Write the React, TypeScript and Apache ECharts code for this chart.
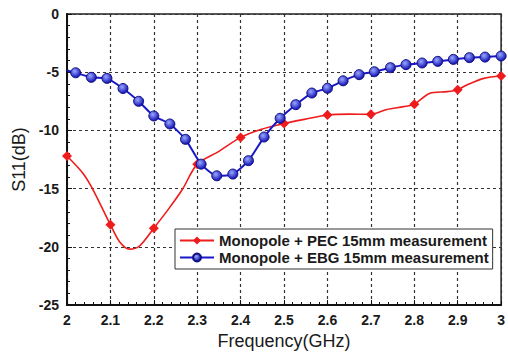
import React, { useEffect, useRef } from 'react';
import * as echarts from 'echarts';

const legendNames = ['Monopole + PEC 15mm measurement', 'Monopole + EBG 15mm measurement'];
const xAxisName = 'Frequency(GHz)';
const yAxisName = 'S11(dB)';

// Monopole + PEC (red) — markers at every 0.1 GHz, extra points trace the smooth curve
const redFreq = [2.0, 2.037, 2.06, 2.1, 2.121, 2.144, 2.167, 2.2, 2.235, 2.266, 2.3, 2.35, 2.4, 2.448, 2.5, 2.547, 2.6, 2.65, 2.7, 2.737, 2.775, 2.8, 2.836, 2.876, 2.9, 2.921, 2.96, 3.0];
const redS11 = [-12.2, -13.7, -15.1, -18.1, -19.56, -20.2, -19.93, -18.4, -16.7, -15.06, -12.9, -11.8, -10.6, -9.9, -9.4, -9.05, -8.68, -8.6, -8.62, -8.2, -7.96, -7.76, -6.8, -6.67, -6.5, -6.1, -5.53, -5.33];
const redMarkerFreq = [2.0, 2.1, 2.2, 2.3, 2.4, 2.5, 2.6, 2.7, 2.8, 2.9, 3.0];

// Monopole + EBG (blue)
const blueFreq = [2.0, 2.02, 2.056, 2.092, 2.129, 2.165, 2.2, 2.237, 2.273, 2.309, 2.345, 2.382, 2.418, 2.454, 2.491, 2.527, 2.564, 2.6, 2.636, 2.673, 2.708, 2.745, 2.781, 2.818, 2.854, 2.89, 2.927, 2.963, 3.0];
const blueS11 = [-4.85, -5.05, -5.44, -5.53, -6.4, -7.5, -8.76, -9.45, -10.77, -12.9, -13.9, -13.75, -12.6, -10.57, -8.96, -7.79, -6.79, -6.38, -5.74, -5.21, -4.96, -4.61, -4.35, -4.21, -4.07, -3.9, -3.75, -3.7, -3.61];
const blueMarkerFrom = 1;

const FONT = '"Liberation Sans", Arial, sans-serif';

export default function App() {
  const ref = useRef<HTMLDivElement>(null);
  useEffect(() => {
    if (!ref.current) return;
    const chart = echarts.init(ref.current, null, { renderer: 'svg' });
    const redData = redFreq.map((f, i) => {
      const isMarker = redMarkerFreq.some((m) => Math.abs(m - f) < 1e-6);
      return isMarker ? { value: [f, redS11[i]] } : { value: [f, redS11[i]], symbol: 'none' };
    });
    const blueData = blueFreq.map((f, i) =>
      i >= blueMarkerFrom ? { value: [f, blueS11[i]] } : { value: [f, blueS11[i]], symbol: 'none' }
    );
    const axisLabel = { fontSize: 14, fontWeight: 'bold' as const, color: '#1a1a1a', fontFamily: FONT, margin: 8 };
    const splitLine = { show: true, lineStyle: { type: [3, 3] as any, color: '#333', width: 1.2 } };
    const axisLine = { show: true, onZero: false, lineStyle: { color: '#111', width: 2 } };
    chart.setOption({
      animation: false,
      backgroundColor: '#fff',
      grid: { left: 67, right: 3, top: 14, bottom: 51, show: true, borderColor: '#222', borderWidth: 1.5 },
      xAxis: {
        type: 'value', min: 2, max: 3, interval: 0.1,
        axisLine, axisTick: { show: true, inside: true, length: 5, lineStyle: { color: '#111' } },
        minorTick: { show: true, splitNumber: 5, length: 3, lineStyle: { color: '#111' } },
        splitLine, axisLabel,
        name: xAxisName, nameLocation: 'middle', nameGap: 27,
        nameTextStyle: { fontSize: 18, color: '#1a1a1a', fontFamily: FONT },
      },
      yAxis: {
        type: 'value', min: -25, max: 0, interval: 5,
        axisLine, axisTick: { show: true, inside: true, length: 5, lineStyle: { color: '#111' } },
        minorTick: { show: true, splitNumber: 5, length: 3, lineStyle: { color: '#111' } },
        splitLine, axisLabel,
        name: yAxisName, nameLocation: 'middle', nameGap: 38,
        nameTextStyle: { fontSize: 18, color: '#1a1a1a', fontFamily: FONT },
      },
      legend: {
        data: legendNames,
        left: 175, top: 229, orient: 'vertical',
        itemWidth: 34, itemHeight: 10, itemGap: 2,
        padding: [4, 4, 4, 4],
        borderColor: '#333', borderWidth: 1, backgroundColor: '#fff',
        textStyle: { fontSize: 15, fontWeight: 'bold', color: '#1a1a1a', fontFamily: FONT },
      },
      series: [
        {
          name: legendNames[0], type: 'line', data: redData,
          smooth: 0.3, symbol: 'diamond', symbolSize: 10, showAllSymbol: true,
          lineStyle: { color: '#ee1c1c', width: 1.6 },
          itemStyle: { color: '#ee1c1c' },
          z: 2,
        },
        {
          name: legendNames[1], type: 'line', data: blueData,
          smooth: 0.2, symbol: 'circle', symbolSize: 10, showAllSymbol: true,
          lineStyle: { color: '#1818c8', width: 2 },
          itemStyle: {
            color: new echarts.graphic.RadialGradient(0.4, 0.35, 0.6, [
              { offset: 0, color: '#9aa8ff' },
              { offset: 1, color: '#1a1ab8' },
            ]),
            borderColor: '#101080', borderWidth: 1,
          },
          z: 3,
        },
      ],
    });
    return () => chart.dispose();
  }, []);
  return <div ref={ref} style={{ position: 'fixed', left: 0, top: 0, width: 508, height: 356 }} />;
}
